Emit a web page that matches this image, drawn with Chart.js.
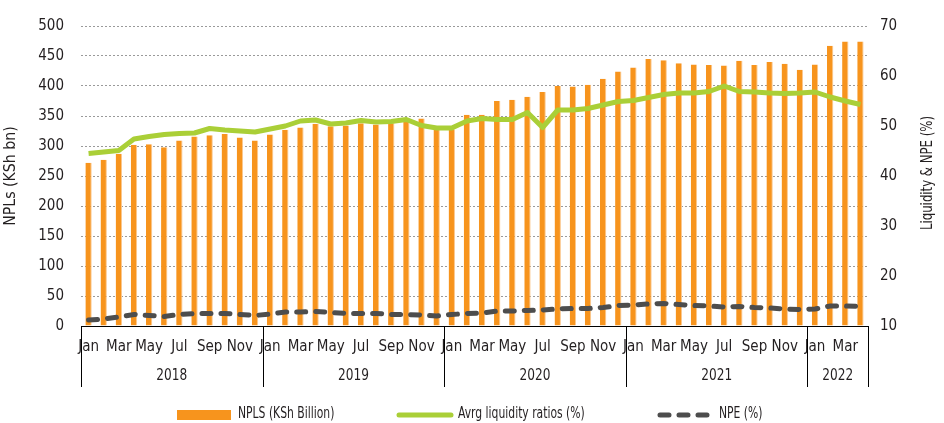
<!DOCTYPE html>
<html>
<head>
<meta charset="utf-8">
<script src="https://cdn.jsdelivr.net/npm/chart.js@4/dist/chart.umd.min.js"></script>
<style>
  body { margin: 0; background: #fff; }
  #wrap { width: 944px; height: 423px; position: relative; }
</style>
</head>
<body>
<div id="wrap"><canvas id="chartCanvas"></canvas></div>
<script>
const monthNames = ['Jan','Feb','Mar','Apr','May','Jun','Jul','Aug','Sep','Oct','Nov','Dec'];
const years = ['2018', '2019', '2020', '2021', '2022'];
const monthsPerYear = [12, 12, 12, 12, 4];

// NPLs, KSh billion (left axis)
const npls = [272, 277, 287, 302, 303, 298, 309, 316, 318, 320, 314, 309,
              319, 327, 331, 337, 333, 334, 338, 336, 338, 340, 346, 328,
              328, 352, 352, 375, 377, 382, 390, 400, 399, 402, 412, 424,
              431, 445, 443, 438, 436, 435, 434, 442, 435, 440, 437, 427,
              436, 467, 474, 474];
// Average liquidity ratio, % (right axis)
const liquidity = [44.5, 44.8, 45.1, 47.4, 47.9, 48.3, 48.5, 48.6, 49.5, 49.2, 49.0, 48.8,
                   49.4, 50.0, 51.0, 51.2, 50.4, 50.6, 51.1, 50.8, 50.9, 51.3, 50.1, 49.6,
                   49.6, 51.0, 51.5, 51.3, 51.3, 52.7, 49.7, 53.2, 53.2, 53.5, 54.2, 54.9,
                   55.1, 55.7, 56.3, 56.6, 56.6, 56.9, 58.0, 56.9, 56.8, 56.6, 56.5, 56.6,
                   56.8, 55.8, 55.0, 54.3];
// NPE, % (right axis)
const npe = [11.2, 11.4, 11.8, 12.3, 12.1, 11.9, 12.3, 12.5, 12.5, 12.5, 12.3, 12.1,
             12.4, 12.8, 12.8, 12.9, 12.7, 12.5, 12.5, 12.5, 12.3, 12.3, 12.2, 12.0,
             12.3, 12.5, 12.6, 13.0, 13.0, 13.1, 13.2, 13.4, 13.5, 13.5, 13.7, 14.1,
             14.2, 14.4, 14.5, 14.3, 14.1, 14.0, 13.8, 13.9, 13.7, 13.6, 13.4, 13.3,
             13.4, 14.0, 14.0, 13.9];

const labels = [];
monthsPerYear.forEach(n => { for (let m = 0; m < n; m++) labels.push(monthNames[m]); });

const FONT = '"Liberation Sans Narrow", "DejaVu Sans Condensed", "Roboto", sans-serif';
const TEXT = '#231f20';
const ORANGE = '#f7941d';
const GREEN = '#aacf37';
const GREY = '#4d4d4d';

// draw text squeezed horizontally, the source uses a condensed face
function narrowText(ctx, txt, x, y, sx) {
    ctx.save();
    ctx.translate(x, y);
    ctx.scale(sx, 1);
    ctx.fillText(txt, 0, 0);
    ctx.restore();
}

// year groups, separators, axis titles and legend
const decorations = {
    id: 'decorations',
    afterDraw(chart) {
        const ctx = chart.ctx;
        const area = chart.chartArea;
        const slot = (area.right - area.left) / labels.length;
        ctx.save();
        ctx.strokeStyle = '#000';
        ctx.lineWidth = 1;
        let idx = 0;
        const seps = [];
        monthsPerYear.forEach(n => { seps.push(idx); idx += n; });
        seps.push(idx);
        seps.forEach(i => {
            const x = Math.round(area.left + i * slot) + 0.5;
            ctx.beginPath();
            ctx.moveTo(x, area.bottom);
            ctx.lineTo(x, area.bottom + 61);
            ctx.stroke();
        });
        ctx.fillStyle = TEXT;
        ctx.font = '15px ' + FONT;
        ctx.textAlign = 'center';
        ctx.textBaseline = 'middle';
        years.forEach((y, k) => {
            const x = area.left + (seps[k] + seps[k + 1]) / 2 * slot;
            narrowText(ctx, y, x, area.bottom + 50, 0.9);
        });

        // axis titles
        ctx.save();
        ctx.translate(11, (area.top + area.bottom) / 2);
        ctx.rotate(-Math.PI / 2);
        ctx.scale(1.05, 1);
        ctx.fillText('NPLs (KSh bn)', 0, 0);
        ctx.restore();
        ctx.save();
        ctx.translate(928, (area.top + area.bottom) / 2 - 3);
        ctx.rotate(-Math.PI / 2);
        ctx.scale(0.87, 1);
        ctx.fillText('Liquidity & NPE (%)', 0, 0);
        ctx.restore();

        // legend
        const ly = 414;
        ctx.textAlign = 'left';
        ctx.fillStyle = ORANGE;
        ctx.fillRect(177, ly - 4, 54, 10);
        ctx.fillStyle = TEXT;
        narrowText(ctx, 'NPLS (KSh Billion)', 238, ly, 0.8);

        ctx.lineCap = 'round';
        ctx.strokeStyle = GREEN;
        ctx.lineWidth = 5;
        ctx.beginPath();
        ctx.moveTo(399, ly + 1);
        ctx.lineTo(451, ly + 1);
        ctx.stroke();
        narrowText(ctx, 'Avrg liquidity ratios (%)', 458, ly, 0.8);

        ctx.strokeStyle = GREY;
        ctx.setLineDash([9, 10]);
        ctx.beginPath();
        ctx.moveTo(660, ly + 1);
        ctx.lineTo(708, ly + 1);
        ctx.stroke();
        ctx.setLineDash([]);
        narrowText(ctx, 'NPE (%)', 719, ly, 0.8);
        ctx.restore();
    }
};

const myChart = new Chart(document.getElementById('chartCanvas'), {
    type: 'bar',
    data: {
        labels: labels,
        datasets: [
            {
                type: 'line',
                label: 'NPE (%)',
                data: npe,
                yAxisID: 'y1',
                borderColor: GREY,
                borderWidth: 5,
                borderDash: [9, 10],
                borderCapStyle: 'round',
                pointRadius: 0,
                tension: 0,
                order: 1
            },
            {
                type: 'line',
                label: 'Avrg liquidity ratios (%)',
                data: liquidity,
                yAxisID: 'y1',
                borderColor: GREEN,
                borderWidth: 5,
                borderJoinStyle: 'round',
                pointRadius: 0,
                tension: 0,
                order: 2
            },
            {
                label: 'NPLS (KSh Billion)',
                data: npls,
                yAxisID: 'y',
                backgroundColor: ORANGE,
                borderColor: '#fbc88f',
                borderWidth: { left: 0, right: 1, top: 0, bottom: 0 },
                barPercentage: 0.42,
                categoryPercentage: 1,
                order: 3
            }
        ]
    },
    options: {
        responsive: true,
        maintainAspectRatio: false,
        animation: false,
        layout: { padding: { top: 17, bottom: 0, left: 0, right: 0 } },
        plugins: {
            legend: { display: false },
            tooltip: { enabled: false }
        },
        scales: {
            x: {
                grid: { display: false },
                border: { display: true, color: '#000', width: 1 },
                ticks: {
                    autoSkip: false,
                    maxRotation: 0,
                    padding: 4,
                    color: TEXT,
                    font: { family: FONT, size: 15 },
                    callback: (v, i) => (i % 2 === 0 ? labels[i] : '')
                },
                afterFit: s => { s.height = 97; }
            },
            y: {
                position: 'left',
                min: 0,
                max: 500,
                ticks: {
                    stepSize: 50,
                    padding: 17,
                    color: TEXT,
                    font: { family: FONT, size: 15 }
                },
                grid: { color: '#9a9a9a', lineWidth: 1, drawTicks: false },
                border: { display: false, dash: [2, 2] },
                afterFit: s => { s.width = 81; }
            },
            y1: {
                position: 'right',
                min: 10,
                max: 70,
                ticks: {
                    stepSize: 10,
                    padding: 12,
                    color: TEXT,
                    font: { family: FONT, size: 15 }
                },
                grid: { drawOnChartArea: false, drawTicks: false },
                border: { display: false },
                afterFit: s => { s.width = 76; }
            }
        }
    },
    plugins: [decorations]
});
</script>
</body>
</html>
